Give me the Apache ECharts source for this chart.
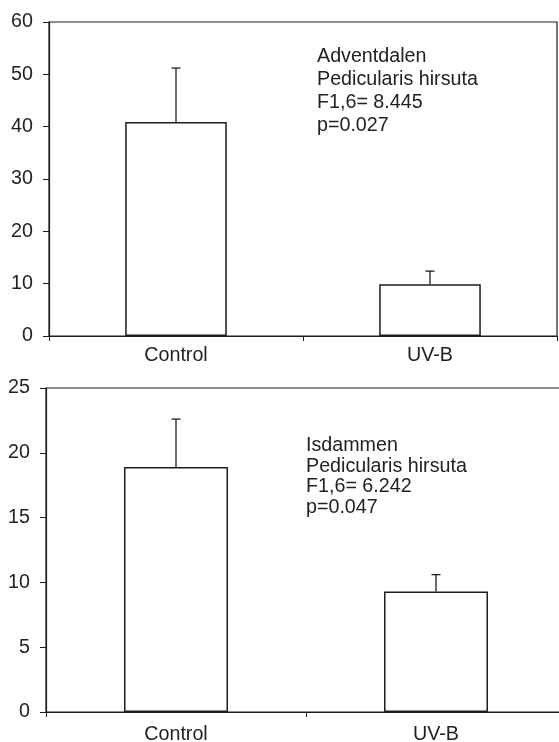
<!DOCTYPE html>
<html>
<head>
<meta charset="utf-8">
<script src="https://cdn.jsdelivr.net/npm/echarts@6/dist/echarts.min.js"></script>
<style>html,body{margin:0;padding:0;background:#fff}#c{width:559px;height:742px}</style>
</head>
<body>
<div id="c"></div>
<script>
var categories = ['Control', 'UV-B'];
var topMeans = [40.9, 9.9];
var topErrors = [10.3, 2.5];
var bottomMeans = [18.9, 9.3];
var bottomErrors = [3.7, 1.3];
var topTicks = [0, 10, 20, 30, 40, 50, 60];
var bottomTicks = [0, 5, 10, 15, 20, 25];
var topText = ['Adventdalen', 'Pedicularis hirsuta', 'F1,6= 8.445', 'p=0.027'];
var bottomText = ['Isdammen', 'Pedicularis hirsuta', 'F1,6= 6.242', 'p=0.047'];

var FONT = 'Liberation Sans, Arial, Helvetica, sans-serif';
var FS = 19.7;
var INK = '#1c1c1c';

function errData(means, errs) {
  return means.map(function (m, i) { return [i, m, m + errs[i]]; });
}
function errRender(params, api) {
  var x = api.value(0);
  var lo = api.coord([x, api.value(1)]);
  var hi = api.coord([x, api.value(2)]);
  var cap = 4.5;
  return {
    type: 'group',
    children: [
      { type: 'line', shape: { x1: lo[0], y1: lo[1], x2: hi[0], y2: hi[1] }, style: { stroke: INK, lineWidth: 1.3 } },
      { type: 'line', shape: { x1: hi[0] - cap, y1: hi[1], x2: hi[0] + cap, y2: hi[1] }, style: { stroke: INK, lineWidth: 1.3 } }
    ]
  };
}
function xAxis(gi, margin) {
  return {
    type: 'category', gridIndex: gi, data: categories,
    axisLine: { lineStyle: { color: INK, width: 1.2 } },
    axisTick: { show: true, length: 5, alignWithLabel: false, lineStyle: { color: INK, width: 1 } },
    axisLabel: { color: '#222', fontSize: FS, fontFamily: FONT, margin: margin },
    splitLine: { show: false }
  };
}
function yAxis(gi, max, interval) {
  return {
    type: 'value', gridIndex: gi, min: 0, max: max, interval: interval,
    axisLine: { show: true, lineStyle: { color: INK, width: 1.2 } },
    axisTick: { show: true, length: 6, lineStyle: { color: INK, width: 1 } },
    axisLabel: { color: '#222', fontSize: FS, fontFamily: FONT, margin: 16 },
    splitLine: { show: false }
  };
}
function textLines(lines, x, y, lh) {
  return lines.map(function (t, i) {
    return { type: 'text', left: x, top: y + i * lh, style: { text: t, fontSize: FS, fontFamily: FONT, fill: '#222' } };
  });
}

var chart = echarts.init(document.getElementById('c'), null, { renderer: 'canvas' });
chart.setOption({
  animation: false,
  backgroundColor: '#fff',
  grid: [
    { left: 49, top: 22, width: 508, height: 314, outerBoundsMode: 'none', containLabel: false,
      show: true, borderColor: INK, borderWidth: 1.2, backgroundColor: 'transparent' },
    { left: 46, top: 388, width: 520, height: 324, outerBoundsMode: 'none', containLabel: false,
      show: true, borderColor: INK, borderWidth: 1.2, backgroundColor: 'transparent' }
  ],
  xAxis: [xAxis(0, 10), xAxis(1, 13)],
  yAxis: [yAxis(0, topTicks[topTicks.length - 1], 10), yAxis(1, bottomTicks[bottomTicks.length - 1], 5)],
  series: [
    { type: 'bar', xAxisIndex: 0, yAxisIndex: 0, data: topMeans, barWidth: '40%',
      itemStyle: { color: '#fff', borderColor: INK, borderWidth: 1.5 } },
    { type: 'custom', xAxisIndex: 0, yAxisIndex: 0, data: errData(topMeans, topErrors), renderItem: errRender, z: 5 },
    { type: 'bar', xAxisIndex: 1, yAxisIndex: 1, data: bottomMeans, barWidth: '40%',
      itemStyle: { color: '#fff', borderColor: INK, borderWidth: 1.5 } },
    { type: 'custom', xAxisIndex: 1, yAxisIndex: 1, data: errData(bottomMeans, bottomErrors), renderItem: errRender, z: 5 }
  ],
  graphic: textLines(topText, 317, 47, 23).concat(textLines(bottomText, 306, 436, 20.5))
});
</script>
</body>
</html>
